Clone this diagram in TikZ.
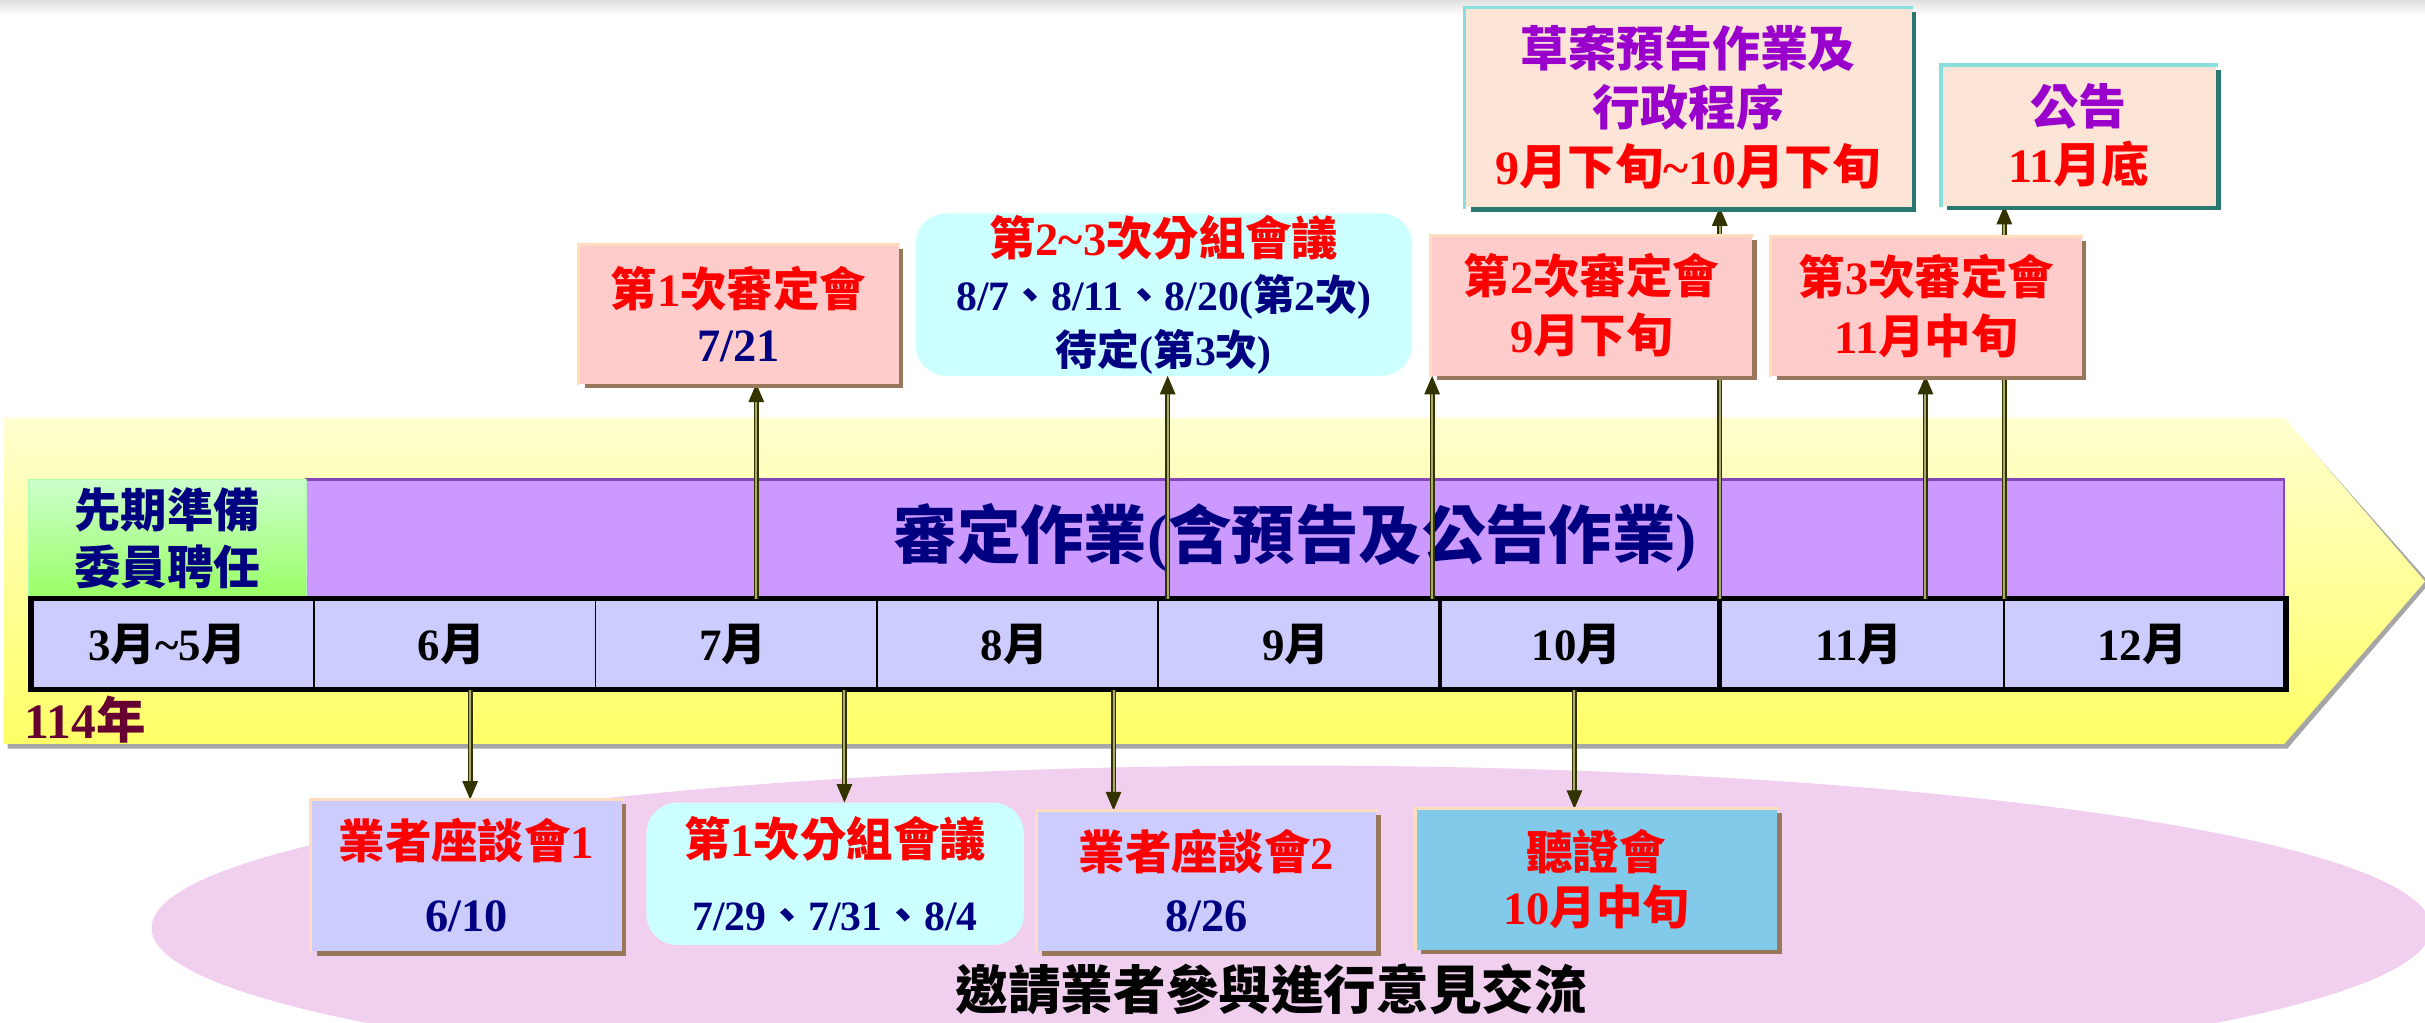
\documentclass[tikz,border=0pt]{standalone}
\usepackage{fontspec}
\setmainfont{Liberation Serif}
\newfontfamily\cjkfont{Noto Sans CJK TC}
\usetikzlibrary{arrows.meta}
\pgfdeclarelayer{bg}\pgfdeclarelayer{fg}\pgfsetlayers{bg,main,fg}
\chardef\CJKcls=7
\makeatletter
\count@="3000
\loop\ifnum\count@<"A000
  \XeTeXcharclass\count@=\CJKcls
  \advance\count@\@ne
\repeat
\makeatother
\XeTeXinterchartoks 0 \CJKcls={\cjkfont}
\XeTeXinterchartoks 4095 \CJKcls={\cjkfont}
\XeTeXinterchartoks \CJKcls 0={\rmfamily}
\XeTeXinterchartoks 4095 0={\rmfamily}
\XeTeXinterchartokenstate=1
\newcommand\setfs[2]{\fontsize{#1}{#2}\selectfont}
\definecolor{navyT}{RGB}{0,0,128}
\definecolor{redT}{RGB}{255,0,0}
\definecolor{purT}{RGB}{153,0,204}
\definecolor{maroonT}{RGB}{102,0,51}
\definecolor{pinkF}{RGB}{255,204,204}
\definecolor{lavF}{RGB}{204,204,255}
\definecolor{cyanF}{RGB}{204,255,255}
\definecolor{peachF}{RGB}{252,228,214}
\definecolor{skyF}{RGB}{130,202,234}
\definecolor{barF}{RGB}{204,153,255}
\definecolor{barD}{RGB}{136,68,187}
\definecolor{ellF}{RGB}{240,208,238}
\definecolor{lightB}{RGB}{255,221,190}
\definecolor{darkB}{RGB}{153,119,90}
\definecolor{tealL}{RGB}{136,221,221}
\definecolor{tealD}{RGB}{40,120,112}
\definecolor{arrD}{RGB}{51,51,0}
\definecolor{arrL}{RGB}{170,170,110}
\definecolor{yelT}{RGB}{255,255,208}
\definecolor{yelB}{RGB}{255,255,102}
\definecolor{grT}{RGB}{204,255,204}
\definecolor{grB}{RGB}{153,255,102}
\newcommand\bevelbox[3]{%
  \draw[#2,line width=2pt] ([yshift=-1pt]#1.south west) -- (#1.north west) -- ([xshift=1pt]#1.north east);
  \draw[#3,line width=3pt] ([xshift=1.5pt,yshift=-3pt]#1.north east) -- ([xshift=1.5pt,yshift=-1.5pt]#1.south east) -- ([xshift=4pt,yshift=-1.5pt]#1.south west);
}
\begin{document}
\begin{tikzpicture}[x=1pt,y=-1pt,
  every node/.style={inner sep=0pt,outer sep=0pt},
  box/.style={rectangle,align=center},
  mon/.style={font=\bfseries\setfs{29}{34}},
  upar/.style={draw=arrD,line width=0.9pt,double=arrL,double distance=1.3pt,-{Triangle[length=12pt,width=10pt]}}]
\useasboundingbox (0,0) rectangle (1568,661);
\begin{pgfonlayer}{bg}
\shade[top color=black!12,bottom color=white] (0,0) rectangle (1568,10);
\fill[ellF] (835,600) ellipse [x radius=737,y radius=105];
\fill[black!35] (5,273) -- (1479,273) -- (1571,377) -- (1479,484) -- (5,484) -- cycle;
\shade[top color=yelT,bottom color=yelB] (3,270) -- (1477,270) -- (1568,376) -- (1477,481) -- (3,481) -- cycle;
\node[box,draw=barD,fill=barF,line width=1.5pt,minimum width=1279,minimum height=76,font=\bfseries\setfs{41}{46},text=navyT] (bar) at (837.5,348) {審定作業(含預告及公告作業)};
\node[box,top color=grT,bottom color=grB,draw=green!30!white,minimum width=180,minimum height=76,font=\bfseries\setfs{30}{37},text=navyT] (prep) at (108,348) {先期準備\\委員聘任};
\fill[lavF] (20,387) rectangle (1478,446);
\node[mon] (m1) at (108,416.5) {3月\string~5月};
\node[mon] (m2) at (292,416.5) {6月};
\node[mon] (m3) at (474,416.5) {7月};
\node[mon] (m4) at (656,416.5) {8月};
\node[mon] (m5) at (838,416.5) {9月};
\node[mon] (m6) at (1019.5,416.5) {10月};
\node[mon] (m7) at (1202,416.5) {11月};
\node[mon] (m8) at (1385,416.5) {12月};
\foreach \xx in {203,385,567,749,1296} \draw[line width=1.2pt] (\xx,387) -- (\xx,446);
\foreach \xx in {931,1112} \draw[line width=3pt] (\xx,387) -- (\xx,446);
\draw[line width=3.5pt] (20,387) rectangle (1478,446);
\end{pgfonlayer}
\begin{pgfonlayer}{fg}
\node[box,fill=pinkF,minimum width=207,minimum height=90,font=\bfseries\setfs{30}{36}] (t1) at (477.5,203) {\color{redT}第1次審定會\\\color{navyT}7/21};
\bevelbox{t1}{lightB}{darkB}
\node[box,fill=cyanF,rounded corners=20pt,minimum width=321,minimum height=105,font=\bfseries\setfs{27}{35.5}] (t2) at (752.5,190.5) {{\color{redT}\setfs{30}{35.5}第2\string~3次分組會議}\\\color{navyT}8/7、8/11、8/20(第2次)\\\color{navyT}待定(第3次)};
\node[box,fill=peachF,minimum width=289,minimum height=129,font=\bfseries\setfs{31}{38}] (t3) at (1091.5,69.5) {\color{purT}草案預告作業及\\\color{purT}行政程序\\\color{redT}9月下旬\string~10月下旬};
\bevelbox{t3}{tealL}{tealD}
\node[box,fill=peachF,minimum width=178,minimum height=91,font=\bfseries\setfs{31}{38}] (t4) at (1344,87.5) {\color{purT}公告\\\color{redT}11月底};
\bevelbox{t4}{tealL}{tealD}
\node[box,fill=pinkF,minimum width=208,minimum height=91,font=\bfseries\setfs{30}{38}] (t5) at (1029,197.5) {\color{redT}第2次審定會\\\color{redT}9月下旬};
\bevelbox{t5}{lightB}{darkB}
\node[box,fill=pinkF,minimum width=201,minimum height=90,font=\bfseries\setfs{30}{38}] (t6) at (1245.5,198) {\color{redT}第3次審定會\\\color{redT}11月中旬};
\bevelbox{t6}{lightB}{darkB}
\node[box,fill=lavF,minimum width=201,minimum height=98,font=\bfseries\setfs{30}{47}] (b1) at (301.5,566) {\color{redT}業者座談會1\\\color{navyT}6/10};
\bevelbox{b1}{lightB}{darkB}
\node[box,fill=cyanF,rounded corners=20pt,minimum width=244,minimum height=92,font=\bfseries\setfs{27}{48}] (b2) at (540,565) {{\color{redT}\setfs{30}{48}第1次分組會議}\\\color{navyT}7/29、7/31、8/4};
\node[box,fill=lavF,minimum width=220,minimum height=91,font=\bfseries\setfs{30}{40}] (b3) at (780,569.5) {\color{redT}業者座談會2\\\color{navyT}8/26};
\bevelbox{b3}{lightB}{darkB}
\node[box,fill=skyF,minimum width=234,minimum height=91,font=\bfseries\setfs{30}{36}] (b4) at (1032,568.5) {\color{redT}聽證會\\\color{redT}10月中旬};
\bevelbox{b4}{lightB}{darkB}
\node[font=\bfseries\setfs{34}{40}] (invite) at (822,640) {邀請業者參與進行意見交流};
\node[font=\bfseries\setfs{32}{36},text=maroonT,anchor=west] (year) at (16,465) {114年};
\end{pgfonlayer}
\coordinate (u1) at (489,387);
\coordinate (u2) at (755,387);
\coordinate (u3) at (926,387);
\coordinate (u4) at (1112,387);
\coordinate (u5) at (1245,387);
\coordinate (u6) at (1296,387);
\draw[upar] (u1) -- (u1 |- t1.south);
\draw[upar] (u2) -- (u2 |- t2.south);
\draw[upar] (u3) -- (u3 |- t5.south);
\draw[upar] (u4) -- (u4 |- t3.south);
\draw[upar] (u5) -- (u5 |- t6.south);
\draw[upar] (u6) -- (u6 |- t4.south);
\coordinate (d1) at (304,446);
\coordinate (d2) at (546,446);
\coordinate (d3) at (720,446);
\coordinate (d4) at (1018,446);
\draw[upar] (d1) -- (d1 |- b1.north);
\draw[upar] (d2) -- (d2 |- b2.north);
\draw[upar] (d3) -- (d3 |- b3.north);
\draw[upar] (d4) -- (d4 |- b4.north);
\end{tikzpicture}
\end{document}
